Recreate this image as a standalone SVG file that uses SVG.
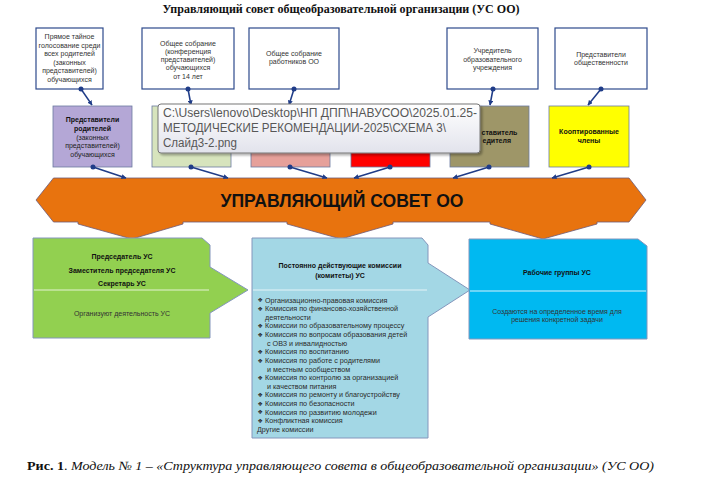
<svg xmlns="http://www.w3.org/2000/svg" width="727" height="489" viewBox="0 0 727 489">
<style>
.t{font-family:"Liberation Sans",Arial,sans-serif;font-size:7px;fill:#333;text-anchor:middle}
.b{font-weight:bold;fill:#111}
.li{font-family:"Liberation Sans",Arial,sans-serif;font-size:7.2px;fill:#2a2a2a}
.bul{font-family:"DejaVu Sans",sans-serif;font-size:6px;fill:#2a2a2a}
.top{fill:#fff;stroke:#2E4A8C;stroke-width:1.2}
.mid{stroke:#6B7AA0;stroke-width:0.8}
.low{stroke:#8496BC;stroke-width:1}
.con{stroke:#1F3C88;stroke-width:1.5;fill:none;marker-end:url(#ah)}
.dot{fill:#1F3C88}
.div{stroke-width:1.2}
.serif{font-family:"Liberation Serif","Times New Roman",serif}
</style>
<defs>
<marker id="ah" viewBox="0 0 10 10" refX="9" refY="5" markerWidth="5" markerHeight="5" orient="auto" markerUnits="userSpaceOnUse">
<path d="M0,0 L10,5 L0,10 z" fill="#1F3C88"/>
</marker>
<linearGradient id="tip" x1="0" y1="0" x2="0" y2="1">
<stop offset="0" stop-color="#ffffff"/>
<stop offset="1" stop-color="#E2E3EC"/>
</linearGradient>
<filter id="sh" x="-5%" y="-10%" width="112%" height="130%">
<feDropShadow dx="2" dy="2" stdDeviation="1.2" flood-color="#000" flood-opacity="0.3"/>
</filter>
</defs>
<rect width="727" height="489" fill="#fff"/>

<text class="serif" x="341" y="13" font-size="12.5" font-weight="bold" text-anchor="middle" textLength="357" lengthAdjust="spacingAndGlyphs" fill="#111">Управляющий совет общеобразовательной организации (УС ОО)</text>

<!-- top boxes -->
<g id="src1"><rect class="top" x="36" y="28" width="67" height="61"/>
<text class="t" x="69.5"><tspan x="69.5" y="39">Прямое тайное</tspan><tspan x="69.5" y="47.6">голосование среди</tspan><tspan x="69.5" y="56.2">всех родителей</tspan><tspan x="69.5" y="64.8">(законных</tspan><tspan x="69.5" y="73.4">представителей)</tspan><tspan x="69.5" y="82">обучающихся</tspan></text></g>
<g id="src2"><rect class="top" x="142" y="28" width="92" height="61"/>
<text class="t"><tspan x="188" y="45.5">Общее собрание</tspan><tspan x="188" y="53.8">(конференция</tspan><tspan x="188" y="62.1">представителей)</tspan><tspan x="188" y="70.4">обучающихся</tspan><tspan x="188" y="78.7">от 14 лет</tspan></text></g>
<g id="src3"><rect class="top" x="249" y="28" width="90" height="61"/>
<text class="t"><tspan x="294" y="55.5">Общее собрание</tspan><tspan x="294" y="63.5">работников ОО</tspan></text></g>
<g id="src4"><rect class="top" x="447" y="28" width="91" height="61"/>
<text class="t"><tspan x="492.5" y="53.2">Учредитель</tspan><tspan x="492.5" y="61.5">образовательного</tspan><tspan x="492.5" y="69.8">учреждения</tspan></text></g>
<g id="src5"><rect class="top" x="555" y="28" width="92" height="61"/>
<text class="t"><tspan x="601" y="56.5">Представители</tspan><tspan x="601" y="64.8">общественности</tspan></text></g>

<!-- middle boxes -->
<g id="m1"><rect class="mid" x="53" y="106" width="79" height="61" fill="#B4A7D6"/>
<text class="t" fill="#111"><tspan class="b" x="92.5" y="121.8">Представители</tspan><tspan class="b" x="92.5" y="130.8">родителей</tspan><tspan x="92.5" y="139.8" fill="#222">(законных</tspan><tspan x="92.5" y="148.2" fill="#222">представителей)</tspan><tspan x="92.5" y="156.8" fill="#222">обучающихся</tspan></text></g>
<g id="m2"><rect class="mid" x="152" y="106" width="79" height="61" fill="#D7E4BD"/></g>
<g id="m3"><rect class="mid" x="251" y="106" width="79" height="61" fill="#E6A09A"/></g>
<g id="m4"><rect class="mid" x="351" y="106" width="79" height="61" fill="#FF0000"/></g>
<g id="m5"><rect class="mid" x="450" y="106" width="79" height="61" fill="#9E9668"/>
<text class="t b" style="text-anchor:start"><tspan x="481.5" y="134.5">ставитель</tspan><tspan x="482.5" y="143">едителя</tspan></text></g>
<g id="m6"><rect class="mid" x="549" y="106" width="80" height="61" fill="#FFFF00"/>
<text class="t b"><tspan x="589" y="134.2">Кооптированные</tspan><tspan x="589" y="143">члены</tspan></text></g>

<!-- banner -->
<g id="council">
<polygon points="36,200 53.5,178 629,178 646,200 629,222 597,222 597,224 543,239 490,224 490,222 393,222 393,224 341,239 287,224 287,222 183,222 183,224 132,239 78,224 78,222 53.5,222" fill="#E8730E" stroke="#6D5A78" stroke-width="0.8"/>
<text x="342" y="206.5" font-family="'Liberation Sans',Arial,sans-serif" font-size="18" font-weight="bold" fill="#111" text-anchor="middle" textLength="243" lengthAdjust="spacingAndGlyphs">УПРАВЛЯЮЩИЙ СОВЕТ ОО</text>
</g>

<!-- bottom boxes -->
<g id="leaders">
<polygon class="low" points="33,238 202,238 210,245 210,267 248,290 210,313 210,338 33,338" fill="#92D050"/>
<line class="div" x1="34" y1="290" x2="209" y2="290" stroke="#E4F2D2"/>
<text class="t b"><tspan x="122" y="258.5">Председатель УС</tspan><tspan x="122" y="272.5">Заместитель председателя УС</tspan><tspan x="122" y="285.5">Секретарь УС</tspan></text>
<text class="t" x="122" y="316" font-size="7.2" fill="#222">Организуют деятельность УС</text>
</g>
<g id="commissions">
<polygon class="low" points="252,238 422,238 428,245 428,263 470,290 428,317 428,438 252,438" fill="#A3D7E5"/>
<line class="div" x1="253" y1="290" x2="427" y2="290" stroke="#E6F4F8"/>
<text class="t b"><tspan x="340" y="267.5">Постоянно действующие комиссии</tspan><tspan x="340" y="277.5">(комитеты) УС</tspan></text>
<g class="bul">
<text x="257.5" y="302.2">❖</text><text x="257.5" y="310.8">❖</text><text x="257.5" y="328">❖</text><text x="257.5" y="336.7">❖</text><text x="257.5" y="353.9">❖</text><text x="257.5" y="362.5">❖</text><text x="257.5" y="379.8">❖</text><text x="257.5" y="397">❖</text><text x="257.5" y="405.6">❖</text><text x="257.5" y="414.2">❖</text><text x="257.5" y="422.9">❖</text>
</g>
<text class="li">
<tspan x="265" y="302.5">Организационно-правовая комиссия</tspan>
<tspan x="265" y="311.1">Комиссия по финансово-хозяйственной</tspan>
<tspan x="265" y="319.7">деятельности</tspan>
<tspan x="265" y="328.4">Комиссии по образовательному процессу</tspan>
<tspan x="265" y="337">Комиссия по вопросам образования детей</tspan>
<tspan x="267" y="345.6">с ОВЗ и инвалидностью</tspan>
<tspan x="265" y="354.2">Комиссия по воспитанию</tspan>
<tspan x="265" y="362.8">Комиссия по работе с родителями</tspan>
<tspan x="267" y="371.5">и местным сообществом</tspan>
<tspan x="265" y="380.1">Комиссия по контролю за организацией</tspan>
<tspan x="267" y="388.7">и качеством питания</tspan>
<tspan x="265" y="397.3">Комиссия по ремонту и благоустройству</tspan>
<tspan x="265" y="405.9">Комиссия по безопасности</tspan>
<tspan x="265" y="414.6">Комиссия по развитию молодежи</tspan>
<tspan x="265" y="423.2">Конфликтная комиссия</tspan>
<tspan x="257" y="431.8">Другие комиссии</tspan>
</text>
</g>
<g id="workgroups">
<polygon class="low" points="469,239 638,239 647,246 647,339 469,339" fill="#00B9F1"/>
<line class="div" x1="470" y1="291" x2="646" y2="291" stroke="#D8F2FC"/>
<text class="t b" x="557" y="274.5">Рабочие группы УС</text>
<text class="t" fill="#1a2a40"><tspan x="557" y="313.5">Создаются на определенное время для</tspan><tspan x="557" y="321.5">решения конкретной задачи</tspan></text>
</g>

<!-- connectors -->
<g id="connectors">
<line class="con" x1="81" y1="89" x2="92" y2="105"/>
<line class="con" x1="188" y1="89" x2="191" y2="105"/>
<line class="con" x1="294" y1="89" x2="289" y2="105"/>
<line class="con" x1="493" y1="89" x2="490" y2="105"/>
<line class="con" x1="601" y1="89" x2="588" y2="105"/>
<line class="con" x1="93" y1="167" x2="126" y2="178"/>
<line class="con" x1="191" y1="167" x2="228" y2="178"/>
<line class="con" x1="290" y1="167" x2="327" y2="178"/>
<line class="con" x1="390" y1="167" x2="354" y2="178"/>
<line class="con" x1="489" y1="167" x2="453" y2="178"/>
<line class="con" x1="589" y1="167" x2="552" y2="178"/>
<circle class="dot" cx="81" cy="89" r="2.5"/>
<circle class="dot" cx="188" cy="89" r="2.5"/>
<circle class="dot" cx="294" cy="89" r="2.5"/>
<circle class="dot" cx="493" cy="89" r="2.5"/>
<circle class="dot" cx="601" cy="89" r="2.5"/>
<circle class="dot" cx="93" cy="167" r="2.5"/>
<circle class="dot" cx="191" cy="167" r="2.5"/>
<circle class="dot" cx="290" cy="167" r="2.5"/>
<circle class="dot" cx="390" cy="167" r="2.5"/>
<circle class="dot" cx="489" cy="167" r="2.5"/>
<circle class="dot" cx="589" cy="167" r="2.5"/>
</g>

<!-- tooltip -->
<g id="tooltip">
<rect x="158" y="104" width="322" height="49" rx="3" fill="url(#tip)" stroke="#767676" stroke-width="1" filter="url(#sh)"/>
<text font-family="'Liberation Sans',Arial,sans-serif" font-size="12.3" fill="#575757">
<tspan x="163" y="117" textLength="314" lengthAdjust="spacingAndGlyphs">C:\Users\lenovo\Desktop\НП ДПП\НАВУСОО\2025.01.25-</tspan>
<tspan x="163" y="132" textLength="283" lengthAdjust="spacingAndGlyphs">МЕТОДИЧЕСКИЕ РЕКОМЕНДАЦИИ-2025\СХЕМА 3\</tspan>
<tspan x="163" y="147" textLength="74" lengthAdjust="spacingAndGlyphs">Слайд3-2.png</tspan>
</text>
</g>

<text class="serif" x="27" y="470" font-size="12.5" fill="#111" textLength="627" lengthAdjust="spacingAndGlyphs"><tspan font-weight="bold">Рис. 1</tspan>.  <tspan font-style="italic">Модель № 1 – «Структура управляющего совета в общеобразовательной организации» (УС ОО)</tspan></text>
</svg>
